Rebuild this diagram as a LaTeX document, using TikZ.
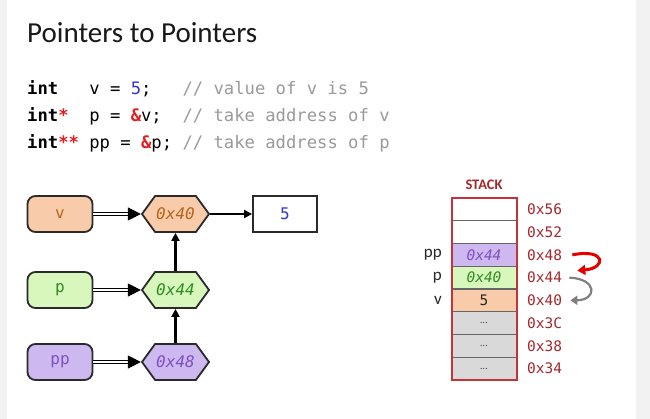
\documentclass[tikz,border=0pt]{standalone}
\usepackage{fontspec}
\setmainfont{Carlito}
\newfontfamily\code{DejaVu Sans Mono}
\usetikzlibrary{arrows.meta,shapes.symbols}
\definecolor{peach}{HTML}{F8CBAA}
\definecolor{lgreen}{HTML}{D8F7BC}
\definecolor{lpurple}{HTML}{CDB8F0}
\definecolor{vtxt}{HTML}{B5651D}
\definecolor{ptxt}{HTML}{2E8B22}
\definecolor{pptxt}{HTML}{8050C0}
\definecolor{addr}{HTML}{A3282E}
\definecolor{stackred}{HTML}{C4323A}
\definecolor{cellgray}{HTML}{D9D9D9}
\definecolor{cmt}{HTML}{9A9A9A}
\definecolor{amp}{HTML}{E02020}
\definecolor{numblue}{HTML}{3535D0}
\definecolor{edge}{HTML}{2A2A2A}
\begin{document}
\begin{tikzpicture}[x=1pt,y=-1pt,
  varbox/.style={draw=edge, line width=1.8pt, rounded corners=8pt, minimum width=65pt, minimum height=36pt, inner sep=0pt, font=\code\fontsize{16}{18}\selectfont},
  hexbox/.style={shape=signal, signal to=west and east, signal pointer angle=108, draw=edge, line width=1.8pt, minimum width=67pt, minimum height=36pt, inner sep=0pt, font=\code\itshape\fontsize{16}{18}\selectfont},
  valbox/.style={draw=edge, line width=1.8pt, minimum width=64pt, minimum height=36pt, inner sep=0pt, font=\code\fontsize{16}{18}\selectfont},
  dbl/.style={double=white, double distance=2pt, line width=1.3pt, draw=black, -{Triangle[length=13pt,width=13pt]}},
  sgl/.style={line width=2.3pt, -{Triangle[length=8pt,width=8pt]}},
  cell/.style={draw=gray!80!black, line width=1pt, minimum width=64pt, minimum height=22.75pt, inner sep=0pt, font=\code\fontsize{14.5}{16}\selectfont},
  addrlbl/.style={anchor=west, inner sep=0pt, text=addr, font=\code\fontsize{14.5}{16}\selectfont},
  varlbl/.style={anchor=east, inner sep=0pt, text=black!85, font=\fontsize{17}{18}\selectfont},
  dots/.style={fill=cellgray, text=black!75, font=\fontsize{10}{11}\selectfont},
  codeline/.style={anchor=base west, inner sep=0pt, font=\code\fontsize{17.2}{20}\selectfont}
]
\fill[black!5] (0,0) rectangle (650,419);
\fill[white] (7,0) rectangle (636,419);
\useasboundingbox (0,0) rectangle (650,419);

% title
\node[anchor=west, inner sep=0pt, font=\fontsize{29}{32}\selectfont, text=black!90] (title) at (27,33) {Pointers to Pointers};

% code
\node[codeline] (c1) at (27,95) {\textbf{int}~~~v~=~\textcolor{numblue}{5};~~~\textcolor{cmt}{//~value~of~v~is~5}};
\node[codeline] (c2) at (27,122) {\textbf{int\textcolor{amp}{*}}~~p~=~\textcolor{amp}{\textbf{\&}}v;~~\textcolor{cmt}{//~take~address~of~v}};
\node[codeline] (c3) at (27,149) {\textbf{int\textcolor{amp}{**}}~pp~=~\textcolor{amp}{\textbf{\&}}p;~\textcolor{cmt}{//~take~address~of~p}};

% left diagram
\node[varbox, fill=peach, text=vtxt] (bv) at (60,214) {v};
\node[varbox, fill=lgreen, text=ptxt] (bp) at (60,290) {p};
\node[varbox, fill=lpurple, text=pptxt] (bpp) at (60,362) {pp};
\node[hexbox, fill=peach, text=vtxt] (hv) at (175.5,214) {0x40};
\node[hexbox, fill=lgreen, text=ptxt] (hp) at (175.5,290) {0x44};
\node[hexbox, fill=lpurple, text=pptxt] (hpp) at (175.5,362) {0x48};
\node[valbox, fill=white, text=numblue] (five) at (285,214) {5};

\draw[dbl] (bv.east) -- (hv.west);
\draw[dbl] (bp.east) -- (hp.west);
\draw[dbl] (bpp.east) -- (hpp.west);
\draw[sgl] (hv.east) -- (five.west);
\draw[sgl] (hp.north) -- (hv.south);
\draw[sgl] (hpp.north) -- (hp.south);

% stack
\node[font=\bfseries\fontsize{14.5}{16}\selectfont, text=addr] (stk) at (484,185) {STACK};
\node[cell, fill=white] (s0) at (484,209.4) {};
\node[cell, fill=white] (s1) at (484,232.1) {};
\node[cell, fill=lpurple, text=pptxt, font=\code\itshape\fontsize{14.5}{16}\selectfont] (s2) at (484,254.9) {0x44};
\node[cell, fill=lgreen, text=ptxt, font=\code\itshape\fontsize{14.5}{16}\selectfont] (s3) at (484,277.6) {0x40};
\node[cell, fill=peach, text=black!85] (s4) at (484,300.4) {5};
\node[cell, dots] (s5) at (484,323.1) {...};
\node[cell, dots] (s6) at (484,345.9) {...};
\node[cell, dots] (s7) at (484,368.6) {...};
\draw[stackred, line width=2pt] (s0.north west) rectangle (s7.south east);

\node[addrlbl] (a56) at (527,209.4) {0x56};
\node[addrlbl] (a52) at (527,232.1) {0x52};
\node[addrlbl] (a48) at (527,254.9) {0x48};
\node[addrlbl] (a44) at (527,277.6) {0x44};
\node[addrlbl] (a40) at (527,300.4) {0x40};
\node[addrlbl] (a3c) at (527,323.1) {0x3C};
\node[addrlbl] (a38) at (527,345.9) {0x38};
\node[addrlbl] (a34) at (527,368.6) {0x34};

\node[varlbl] (lpp) at (442,254.9) {pp};
\node[varlbl] (lp) at (442,277.6) {p};
\node[varlbl] (lv) at (442,300.4) {v};

\draw[red!90!black, line width=3pt, -{Triangle[length=8pt,width=10pt]}]
  ([xshift=10pt]a48.east) .. controls (606,248) and (607,268) .. ([xshift=15pt,yshift=7pt]a44.east);
\draw[gray, line width=2.2pt, -{Triangle[length=7pt,width=9pt]}]
  ([xshift=7pt]a44.east) .. controls (598,279) and (597,300) .. ([xshift=8pt]a40.east);
\end{tikzpicture}
\end{document}
